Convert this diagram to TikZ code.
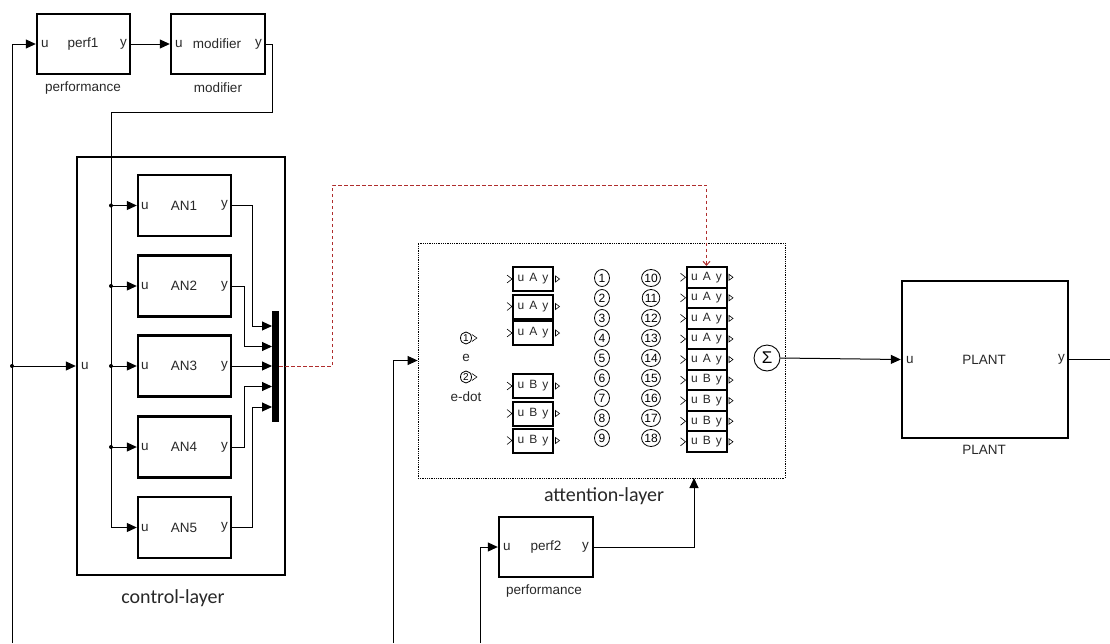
\documentclass[tikz,border=0pt]{standalone}
\usepackage{fontspec}
\setmainfont{Liberation Sans}
\newfontfamily\calib{Carlito}
\usetikzlibrary{arrows.meta,calc,shapes.geometric}
\definecolor{dred}{RGB}{175,45,45}
\definecolor{txtgray}{RGB}{40,40,40}
\begin{document}
\begin{tikzpicture}[x=1pt,y=-1pt,
  blk/.style={draw, line width=2.4pt, inner sep=0pt},
  lbl/.style={inner sep=0pt, text=txtgray, font=\fontsize{13.5}{15}\selectfont},
  sml/.style={inner sep=0pt, text=txtgray, font=\fontsize{13.5}{15}\selectfont},
  big/.style={inner sep=0pt, text=txtgray, font=\calib\fontsize{20}{22}\selectfont},
  sig/.style={line width=1pt, -{Triangle[length=10pt,width=9pt]}},
  wire/.style={line width=1pt},
  cell/.style={draw, line width=2pt, minimum width=40pt, inner sep=0pt, text=txtgray, font=\fontsize{12}{13}\selectfont},
  inp/.style={draw, line width=0.8pt, ellipse, minimum width=15pt, minimum height=17pt, inner sep=0pt, font=\fontsize{12}{13}\selectfont},
  dot/.style={circle, fill, inner sep=0pt, minimum size=4pt}
]
\useasboundingbox (0,0) rectangle (1110,643);

% top blocks
\node[blk, minimum width=93pt, minimum height=60pt] (perf1) at (83.5,44) {};
\node[lbl, anchor=west] (perf1u) at (41,44) {u};
\node[lbl] (perf1n) at (83,44) {perf1};
\node[lbl, anchor=east] (perf1y) at (127,44) {y};
\node[sml] (perf1l) at (83,88) {performance};

\node[blk, minimum width=94pt, minimum height=60pt] (modifier) at (218,44) {};
\node[lbl, anchor=west] (modu) at (175,44) {u};
\node[lbl] (modn) at (217,44) {modifier};
\node[lbl, anchor=east] (mody) at (262,44) {y};
\node[sml] (modl) at (218,88) {modifier};

% control layer
\node[blk, minimum width=208pt, minimum height=418pt] (cl) at (181,366) {};
\node[lbl, anchor=west] (clu) at (81,366) {u};
\node[big] (cll) at (173,598) {control-layer};

\foreach \i/\y in {1/205.5,2/286,3/366,4/447,5/527.5}{
  \node[blk, minimum width=93pt, minimum height=61pt] (AN\i) at (184.5,\y) {};
  \node[lbl, anchor=west] (AN\i u) at (141,\y) {u};
  \node[lbl] (AN\i n) at (184,\y) {AN\i};
  \node[lbl, anchor=east] (AN\i y) at (228,\y) {y};
}
\node[fill, minimum width=7pt, minimum height=111pt, inner sep=0pt] (mux) at (275.5,366.5) {};

% attention layer
\node[draw, densely dotted, line width=0.8pt, minimum width=367pt, minimum height=235pt, inner sep=0pt] (att) at (601.5,360.5) {};
\node[big] (attl) at (604,496) {attention-layer};

\node[draw, ellipse, line width=0.8pt, minimum width=11pt, minimum height=12pt, inner sep=0pt, font=\fontsize{10}{11}\selectfont] (p1) at (466,338) {1};
\draw[line width=0.6pt] ($(p1.east)+(0,-3.5)$) -- ++(5,3.5) -- ++(-5,3.5);
\node[sml] (pe) at (466,358) {e};
\node[draw, ellipse, line width=0.8pt, minimum width=11pt, minimum height=12pt, inner sep=0pt, font=\fontsize{10}{11}\selectfont] (p2) at (466,377) {2};
\draw[line width=0.6pt] ($(p2.east)+(0,-3.5)$) -- ++(5,3.5) -- ++(-5,3.5);
\node[sml] (ped) at (466,397) {e-dot};

\foreach \i/\y/\t in {1/279/A,2/306.5/A,3/333/A,4/386/B,5/413.5/B,6/440.5/B}{
  \node[cell, minimum height=24pt] (s\i) at (533,\y) {u\hspace{5pt}\t\hspace{5pt}y};
  \draw[line width=0.6pt] ($(s\i.west)+(-5,-4)$) -- (s\i.west) -- ($(s\i.west)+(-5,4)$);
  \draw[line width=0.6pt] ($(s\i.east)+(1.5,-3)$) -- ($(s\i.east)+(5.5,0)$) -- ($(s\i.east)+(1.5,3)$) -- cycle;
}

\foreach \i in {1,...,9}{
  \node[inp] (c\i) at (602,{258+20*\i}) {\i};
}
\foreach \i in {10,...,18}{
  \node[inp] (c\i) at (651,{78+20*\i}) {\i};
}

\foreach \i/\t in {1/A,2/A,3/A,4/A,5/A,6/B,7/B,8/B,9/B}{
  \node[cell, minimum height=20.56pt] (k\i) at (706.5,{256.72+20.56*\i}) {u\hspace{5pt}\t\hspace{5pt}y};
  \draw[line width=0.6pt] ($(k\i.west)+(-5,-4)$) -- (k\i.west) -- ($(k\i.west)+(-5,4)$);
  \draw[line width=0.6pt] ($(k\i.east)+(1.5,-3)$) -- ($(k\i.east)+(5.5,0)$) -- ($(k\i.east)+(1.5,3)$) -- cycle;
}
\node[draw, circle, line width=0.9pt, minimum size=26pt, inner sep=0pt, font=\fontsize{17}{18}\selectfont] (sum) at (767,358) {Σ};

% plant
\node[blk, minimum width=166pt, minimum height=157pt] (plant) at (985,359.5) {};
\node[lbl, anchor=west] (plu) at (906,359.5) {u};
\node[lbl] (pln) at (984,359.5) {PLANT};
\node[lbl, anchor=east] (ply) at (1065,359.5) {y};
\node[lbl] (pll) at (984,450) {PLANT};

% perf2
\node[blk, minimum width=94pt, minimum height=60pt] (perf2) at (546,547) {};
\node[lbl, anchor=west] (p2u) at (503,547) {u};
\node[lbl] (p2n) at (546,547) {perf2};
\node[lbl, anchor=east] (p2y) at (589,547) {y};
\node[sml] (p2l) at (544,591) {performance};

% connectors
\coordinate (b1) at (12,643);
\coordinate (b2) at (393,643);
\coordinate (b3) at (480,643);
\coordinate (out) at (1110,359.5);
\coordinate (j0) at (12,366);
\coordinate (attin) at (694,478);
\draw[sig] (b1) |- (perf1.west);
\node[dot] (d0) at (j0) {};
\draw[sig] (d0.center) -- (cl.west);
\draw[sig] (perf1.east) -- (modifier.west);
\coordinate (m1) at (272,112);
\coordinate (m2) at (111,112);
\draw[sig] (modifier.east) -| (m1) -- (m2) |- (AN5.west);
\foreach \i/\y in {1/205.5,2/286,3/366,4/447}{
  \node[dot] (dd\i) at (111,\y) {};
  \draw[sig] (dd\i.center) -- (AN\i.west);
}
\coordinate (x1) at (252,205.5);
\coordinate (x2) at (244,286);
\coordinate (x4) at (244,447);
\coordinate (x5) at (252,527.5);
\draw[sig] (AN1.east) -- (x1) |- (272,326);
\draw[sig] (AN2.east) -- (x2) |- (272,346.5);
\draw[sig] (AN3.east) -- (272,366);
\draw[sig] (AN4.east) -- (x4) |- (272,386.5);
\draw[sig] (AN5.east) -- (x5) |- (272,407);

\coordinate (r0) at (279,366);
\coordinate (r1) at (332,366);
\coordinate (r2) at (332,185);
\coordinate (r3) at (706.5,185);
\draw[dred, line width=1pt, dash pattern=on 3.5pt off 2.5pt, -{Straight Barb[length=4pt,width=7pt]}] (r0) -- (r1) -- (r2) -- (r3) -- (k1.north);

\draw[sig] (b2) |- (att.west);
\draw[sig] (b3) |- (perf2.west);
\draw[sig] (perf2.east) -| (attin);
\draw[sig] (sum.east) -- (plant.west);
\draw[wire] (plant.east) -- (out);
\end{tikzpicture}
\end{document}
